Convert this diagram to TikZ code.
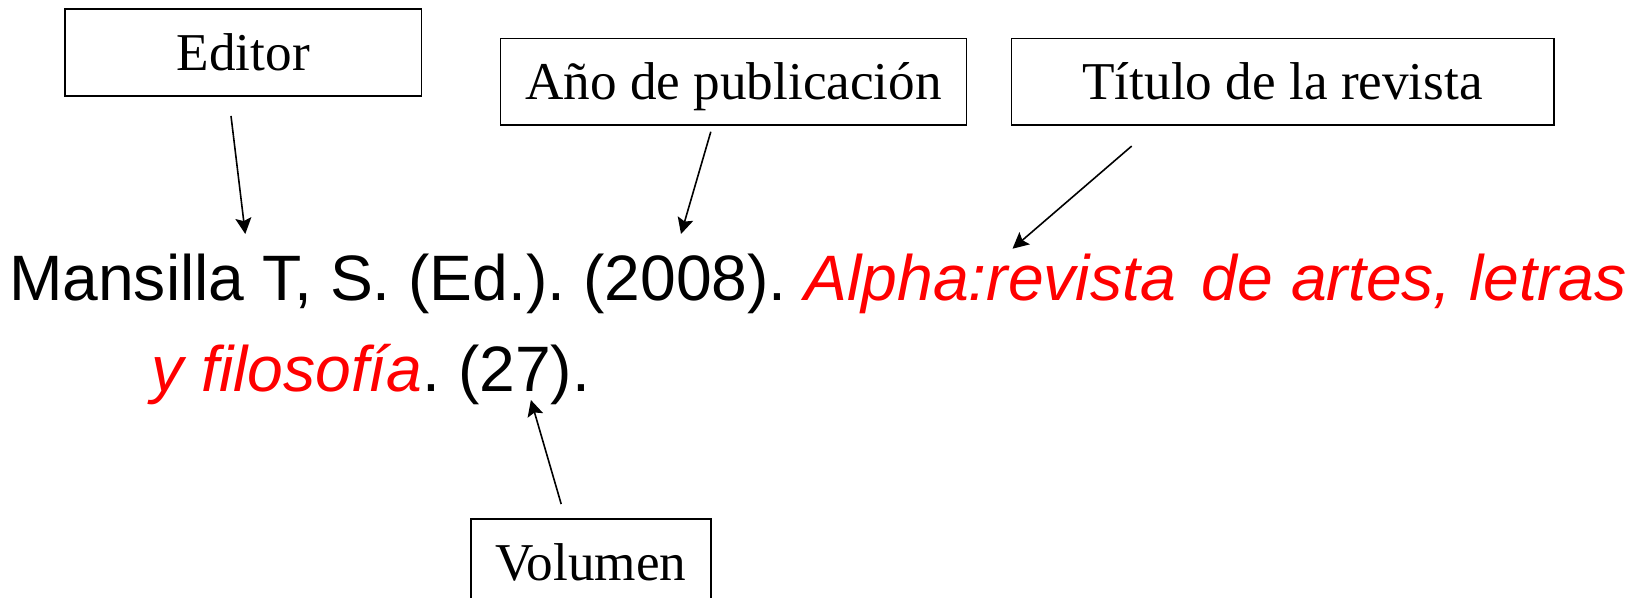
\documentclass[tikz,border=0pt]{standalone}
\usepackage{fontspec}
\setmainfont{Liberation Serif}
\setsansfont{Liberation Sans}
\usetikzlibrary{arrows.meta}
\definecolor{rojo}{RGB}{255,0,0}
\frenchspacing
\tikzset{
  etiqueta/.style={draw, line width=0.85pt, minimum width=#1, minimum height=43.4pt, inner sep=0pt, text height=17.6pt, text depth=0pt, font=\fontsize{26.6}{30}\selectfont},
  flecha/.style={-{Stealth[length=8pt,width=8pt,inset=1.5pt]}, line width=0.8pt},
  cita/.style={anchor=base west, inner sep=0pt, font=\sffamily\fontsize{32.1}{38}\selectfont}
}

\begin{document}
\begin{tikzpicture}[x=0.5pt,y=-0.5pt]
\useasboundingbox (0,0) rectangle (1637,598);

\node [etiqueta=178.25pt] (editor) at (243.3,52.7) {Editor};
\node [etiqueta=232.95pt] (anio) at (733.5,81.8) {Año de publicación};
\node [etiqueta=271.2pt] (titulo) at (1282.6,81.8) {Título de la revista};
\node [etiqueta=120pt] (volumen) at (590.8,562.6) {Volumen};

\node [cita] (linea1) at (8.7,301) {Mansilla T, S. (Ed.). (2008). \textcolor{rojo}{\itshape Alpha:revista\ \kern0.13em de artes, letras}};
\node [cita] (linea2) at (151,391.7) {\textcolor{rojo}{\itshape y filosofía}. (27).};

\coordinate (pEditor) at (245.3,234);
\coordinate (pAnio) at (681,234);
\coordinate (pTitulo) at (1012.5,248.7);
\coordinate (pVolumen) at (530.9,400);

\draw [flecha] ([shift={(-12.3,19)}]editor.south) to (pEditor);
\draw [flecha] ([shift={(-22.7,5.7)}]anio.south) to (pAnio);
\draw [flecha] ([shift={(-150.9,20)}]titulo.south) to (pTitulo);
\draw [flecha] ([shift={(-29.6,-14.3)}]volumen.north) to (pVolumen);

\end{tikzpicture}
\end{document}
